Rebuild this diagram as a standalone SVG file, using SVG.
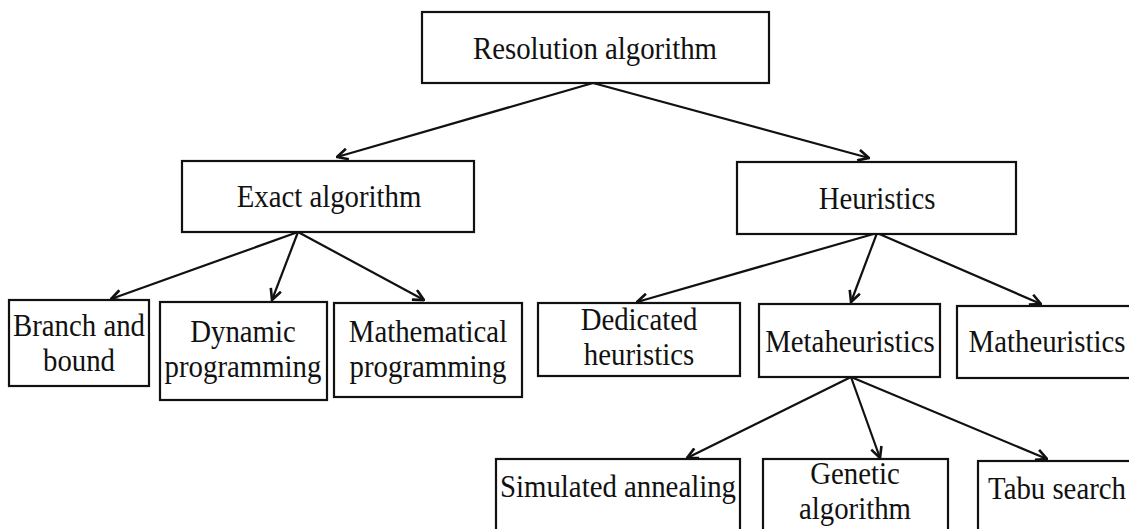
<svg xmlns="http://www.w3.org/2000/svg" width="1129" height="529" viewBox="0 0 1129 529">
<style>
.box{fill:#fff;stroke:#111;stroke-width:2.2}
.t{font-family:"Liberation Serif","Times New Roman",serif;font-size:32px;fill:#111;text-anchor:middle}
.c{stroke:#111;stroke-width:2.2;fill:none}
</style>
<defs>
<marker id="ah" viewBox="0 0 12 12" refX="11" refY="6" markerWidth="13" markerHeight="13" markerUnits="userSpaceOnUse" orient="auto">
<path d="M1,1 L11,6 L1,11" fill="none" stroke="#111" stroke-width="2.4"/>
</marker>
</defs>
<rect width="1129" height="529" fill="#fff"/>
<g id="connectors">
<line class="c" x1="593" y1="83" x2="337" y2="157" marker-end="url(#ah)"/>
<line class="c" x1="593" y1="83" x2="869" y2="158" marker-end="url(#ah)"/>
<line class="c" x1="298" y1="232" x2="111" y2="299" marker-end="url(#ah)"/>
<line class="c" x1="298" y1="232" x2="272" y2="300" marker-end="url(#ah)"/>
<line class="c" x1="298" y1="232" x2="424" y2="300" marker-end="url(#ah)"/>
<line class="c" x1="877" y1="233" x2="637" y2="302" marker-end="url(#ah)"/>
<line class="c" x1="877" y1="233" x2="851" y2="302" marker-end="url(#ah)"/>
<line class="c" x1="877" y1="233" x2="1041" y2="304" marker-end="url(#ah)"/>
<line class="c" x1="851" y1="377" x2="687" y2="458" marker-end="url(#ah)"/>
<line class="c" x1="851" y1="377" x2="880" y2="458" marker-end="url(#ah)"/>
<line class="c" x1="851" y1="377" x2="1047" y2="459" marker-end="url(#ah)"/>
</g>
<g id="root"><rect class="box" x="422" y="12" width="347" height="71"/><text class="t" transform="translate(595,59) scale(0.9,1)">Resolution algorithm</text></g>
<g id="exact"><rect class="box" x="182" y="161" width="292" height="71"/><text class="t" transform="translate(329,207) scale(0.9,1)">Exact algorithm</text></g>
<g id="heuristics"><rect class="box" x="737" y="162" width="279" height="72"/><text class="t" transform="translate(877,209) scale(0.9,1)">Heuristics</text></g>
<g id="branch"><rect class="box" x="9" y="300" width="140" height="86"/><text class="t" transform="translate(79,336) scale(0.9,1)">Branch and</text><text class="t" transform="translate(79,371) scale(0.9,1)">bound</text></g>
<g id="dynamic"><rect class="box" x="160" y="302" width="167" height="98"/><text class="t" transform="translate(243,342) scale(0.9,1)">Dynamic</text><text class="t" transform="translate(243,377) scale(0.9,1)">programming</text></g>
<g id="math"><rect class="box" x="334" y="303" width="188" height="94"/><text class="t" transform="translate(428,342) scale(0.9,1)">Mathematical</text><text class="t" transform="translate(428,377) scale(0.9,1)">programming</text></g>
<g id="dedicated"><rect class="box" x="538" y="303" width="202" height="73"/><text class="t" transform="translate(639,330) scale(0.9,1)">Dedicated</text><text class="t" transform="translate(639,365) scale(0.9,1)">heuristics</text></g>
<g id="meta"><rect class="box" x="759" y="304" width="181" height="73"/><text class="t" transform="translate(850,352) scale(0.9,1)">Metaheuristics</text></g>
<g id="mathe"><rect class="box" x="957" y="306" width="190" height="72"/><text class="t" transform="translate(1047,352) scale(0.9,1)">Matheuristics</text></g>
<g id="sa"><rect class="box" x="496" y="459" width="244" height="90"/><text class="t" transform="translate(618,497) scale(0.9,1)">Simulated annealing</text></g>
<g id="ga"><rect class="box" x="763" y="459" width="185" height="90"/><text class="t" transform="translate(855,484) scale(0.9,1)">Genetic</text><text class="t" transform="translate(855,519) scale(0.9,1)">algorithm</text></g>
<g id="tabu"><rect class="box" x="978" y="461" width="170" height="90"/><text class="t" transform="translate(1057,499) scale(0.9,1)">Tabu search</text></g>
</svg>
